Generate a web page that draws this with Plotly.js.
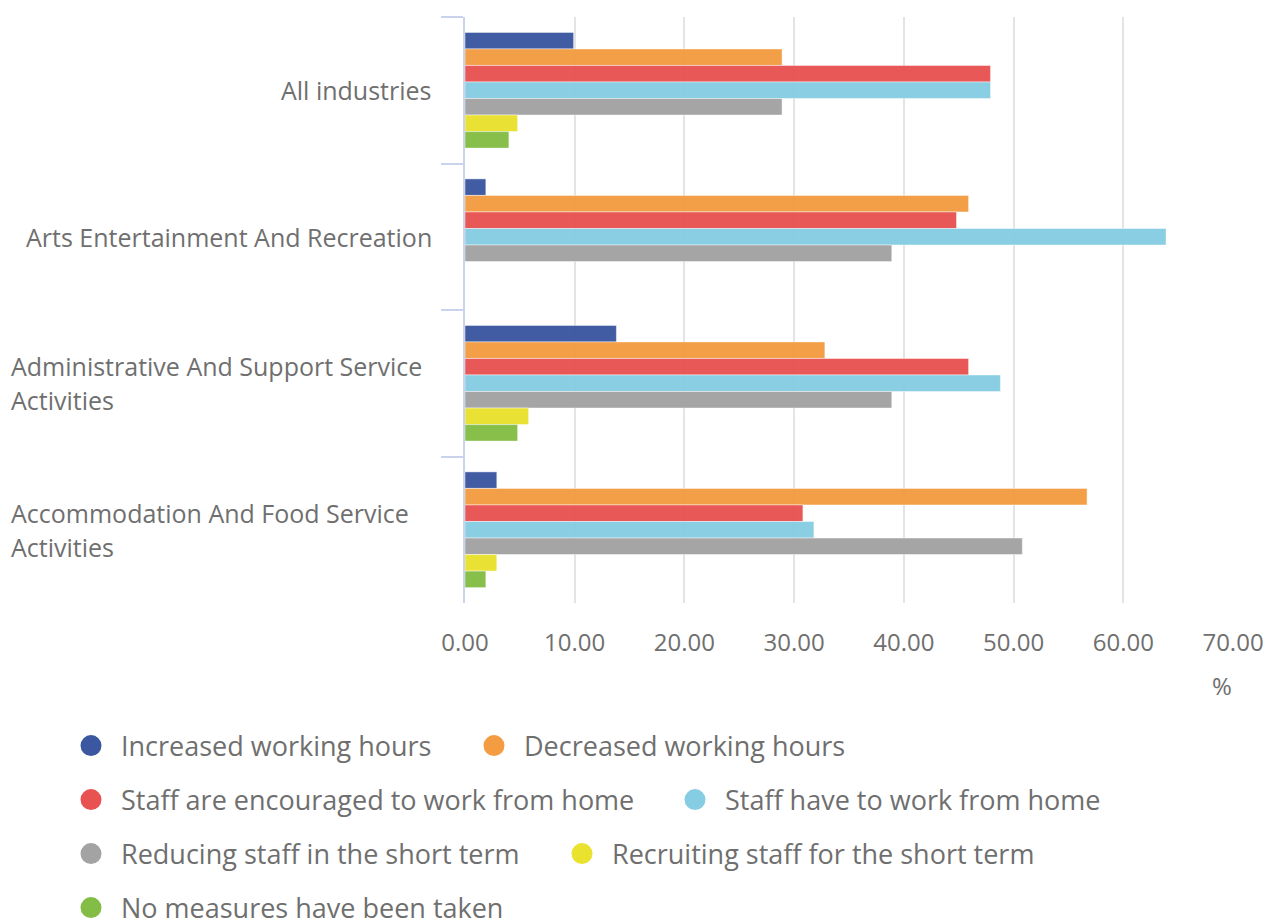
<!DOCTYPE html>
<html>
<head>
<meta charset="utf-8">
<script src="https://cdn.plot.ly/plotly-3.0.1.min.js"></script>
<style>html,body{margin:0;padding:0;background:#fff;}#chart{width:1268px;height:920px;}</style>
</head>
<body>
<div id="chart"></div>
<script>
// ---- data ----
const categories = [
  'All industries',
  'Arts Entertainment And Recreation',
  'Administrative And Support Service Activities',
  'Accommodation And Food Service Activities'
];
const categoryLabelLines = [
  ['All industries'],
  ['Arts Entertainment And Recreation'],
  ['Administrative And Support Service', 'Activities'],
  ['Accommodation And Food Service', 'Activities']
];
const seriesNames = [
  'Increased working hours',
  'Decreased working hours',
  'Staff are encouraged to work from home',
  'Staff have to work from home',
  'Reducing staff in the short term',
  'Recruiting staff for the short term',
  'No measures have been taken'
];
const increasedHours   = [9.9, 1.9, 13.8, 2.9];
const decreasedHours   = [28.9, 45.9, 32.8, 56.7];
const encouragedHome   = [47.9, 44.8, 45.9, 30.8];
const haveToHome       = [47.9, 63.9, 48.8, 31.8];
const reducingStaff    = [28.9, 38.9, 38.9, 50.8];
const recruitingStaff  = [4.8, 0, 5.8, 2.9];
const noMeasures       = [4.0, 0, 4.8, 1.9];
const xTickValues = [0, 10, 20, 30, 40, 50, 60, 70];
const xUnit = '%';

const seriesValues = [increasedHours, decreasedHours, encouragedHome, haveToHome, reducingStaff, recruitingStaff, noMeasures];
const colors = ['#3B57A0', '#F39C42', '#E85352', '#86CDE3', '#A3A3A3', '#E9E22E', '#84BD45'];
const textColor = '#6f6f6f';
const fontFamily = '"Open Sans", "Noto Sans", sans-serif';

// legend placement: marker centre (px) and row centre (px) for each entry
const legendMarkerX = [92, 495, 92, 696, 92, 583, 92];
const legendRowY    = [746, 746, 800, 800, 854, 854, 908];

const traces = [];
seriesNames.forEach((name, i) => {
  traces.push({
    type: 'bar', orientation: 'h', name: name,
    y: categories, x: seriesValues[i],
    marker: {color: colors[i], line: {color: 'rgba(255,255,255,0.45)', width: 1}},
    opacity: 0.97,
    showlegend: false, hoverinfo: 'x+name'
  });
});
const legendIds = seriesNames.map((n, i) => i === 0 ? 'legend' : 'legend' + (i + 1));
seriesNames.forEach((name, i) => {
  traces.push({
    type: 'scatter', mode: 'markers', name: name,
    x: [null], y: [null],
    marker: {symbol: 'circle', size: 16, color: colors[i], line: {color: colors[i], width: 10}},
    legend: legendIds[i],
    showlegend: true, hoverinfo: 'skip'
  });
});

const legendBase = {
  orientation: 'h', xref: 'container', yref: 'container',
  xanchor: 'left', yanchor: 'middle',
  font: {family: fontFamily, size: 27, color: textColor},
  itemwidth: 50, bgcolor: 'rgba(0,0,0,0)', borderwidth: 0,
  itemclick: false, itemdoubleclick: false
};
const layout = {
  width: 1268, height: 920,
  margin: {l: 465, r: 35, t: 17, b: 317, pad: 0},
  paper_bgcolor: '#ffffff', plot_bgcolor: '#ffffff',
  font: {family: fontFamily, size: 24, color: textColor},
  barmode: 'group', bargap: 0.21, bargroupgap: 0,
  xaxis: {
    range: [0, 70], tickvals: xTickValues, tickformat: '.2f',
    showgrid: true, gridcolor: '#e4e4e4', gridwidth: 2,
    zeroline: false, showline: false,
    ticks: 'outside', ticklen: 18, tickcolor: 'rgba(0,0,0,0)',
    tickfont: {family: fontFamily, size: 24, color: textColor},
    fixedrange: true
  },
  yaxis: {
    type: 'category', categoryorder: 'array', categoryarray: categories,
    autorange: 'reversed',
    showticklabels: false, showgrid: false, zeroline: false,
    showline: true, linecolor: '#c9d3ec', linewidth: 2,
    ticks: 'outside', tickson: 'boundaries', ticklen: 22, tickwidth: 2, tickcolor: '#c9d3ec',
    fixedrange: true
  },
  annotations: [],
  showlegend: true
};
legendIds.forEach((id, i) => {
  layout[id] = Object.assign({}, legendBase, {
    x: (legendMarkerX[i] - 31) / 1268,
    y: 1 - legendRowY[i] / 920
  });
});
// category labels
categoryLabelLines.forEach((lines, i) => {
  if (lines.length === 1) {
    layout.annotations.push({
      xref: 'paper', yref: 'y', x: 0, y: categories[i], xshift: -31,
      xanchor: 'right', yanchor: 'middle', text: lines[0], showarrow: false,
      font: {family: fontFamily, size: 25, color: textColor}
    });
  } else {
    lines.forEach((ln, k) => {
      layout.annotations.push({
        xref: 'paper', yref: 'y', x: 0, y: categories[i], xshift: -456,
        yshift: (k === 0 ? 17 : -17),
        xanchor: 'left', yanchor: 'middle', text: ln, showarrow: false,
        font: {family: fontFamily, size: 25, color: textColor}
      });
    });
  }
});
// unit label
layout.annotations.push({
  xref: 'paper', yref: 'paper', x: 1, y: 0, xshift: -11, yshift: -82,
  xanchor: 'center', yanchor: 'middle', text: xUnit, showarrow: false,
  font: {family: fontFamily, size: 24, color: textColor}
});

Plotly.newPlot('chart', traces, layout, {displayModeBar: false, staticPlot: true});
</script>
</body>
</html>
